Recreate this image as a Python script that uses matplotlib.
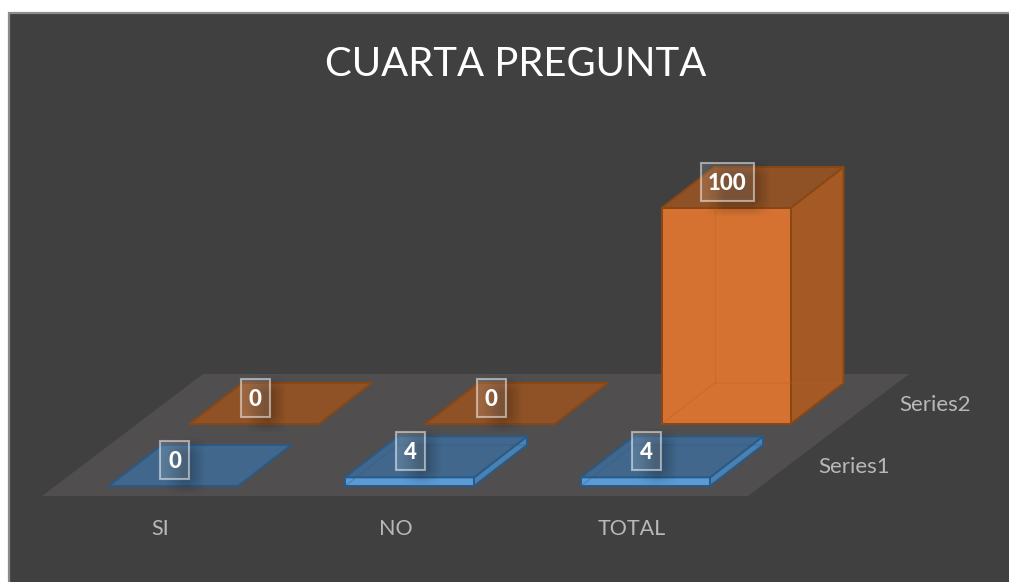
import numpy as np
import matplotlib
matplotlib.use('Agg')
import matplotlib.pyplot as plt
from matplotlib.patches import Polygon, Rectangle

plt.rcParams['font.family'] = ['Lato', 'DejaVu Sans']

TITLE = 'CUARTA PREGUNTA'
CATEGORIES = ['SI', 'NO', 'TOTAL']
SERIES_NAMES = ['Series1', 'Series2']
SERIES1 = [0, 4, 4]
SERIES2 = [0, 0, 100]

BG = '#404040'
FLOOR = '#504e4e'
TEXT = '#b8b8b8'
COLORS = {
    'Series1': {'front': '#5b9bd5', 'top': '#41688c', 'side': '#4a81b3', 'edge': '#2a5a88', 'inner': '#2a5a88'},
    'Series2': {'front': '#d57231', 'top': '#8f5226', 'side': '#a55a25', 'edge': '#8a4713', 'inner': '#b85f20'},
}

# projection, in pixels of the 1009x582 picture
ORIGIN = np.array([109.0, 486.0])   # front left of first bar, first series
CAT_STEP = np.array([236.0, 0.0])
SERIES_STEP = np.array([80.5, -62.0])
DEPTH = np.array([53.0, -41.0])
BAR_W = 129.0
Z_SCALE = 2.16


def corners(i, s, value):
    p = ORIGIN + i * CAT_STEP + s * SERIES_STEP
    w = np.array([BAR_W, 0.0])
    up = np.array([0.0, -value * Z_SCALE])
    return p, w, up


def draw_bar(ax, i, s, value, c):
    p, w, up = corners(i, s, value)
    edge = dict(ec=c['edge'], lw=1.4, joinstyle='round', zorder=4)
    if value > 0:
        ax.add_patch(Polygon([p + w, p + w + DEPTH, p + w + DEPTH + up, p + w + up],
                             fc=c['side'], **edge))
        ax.add_patch(Polygon([p, p + w, p + w + up, p + up], fc=c['front'], **edge))
        # back edges show through the translucent front
        back = p + DEPTH
        ax.plot([back[0], back[0]], [back[1], back[1] + up[1]], color=c['inner'],
                lw=0.9, alpha=0.35, zorder=4.5)
        ax.plot([p[0], back[0], back[0] + BAR_W], [p[1], back[1], back[1]],
                color=c['inner'], lw=0.9, alpha=0.35, zorder=4.5)
    ax.add_patch(Polygon([p + up, p + w + up, p + w + DEPTH + up, p + DEPTH + up],
                         fc=c['top'], **edge))


def soft_shadow(ax, x0, x1, y0, y1, blur, strength):
    xs = np.linspace(x0 - blur, x1 + blur, 80)
    ys = np.linspace(y0 - blur, y1 + blur, 60)
    ax_x = np.clip((xs - (x0 - blur)) / (2 * blur), 0, 1) * np.clip(((x1 + blur) - xs) / (2 * blur), 0, 1)
    ax_y = np.clip((ys - (y0 - blur)) / (2 * blur), 0, 1) * np.clip(((y1 + blur) - ys) / (2 * blur), 0, 1)
    alpha = np.outer(ax_y, ax_x) * strength
    rgba = np.zeros(alpha.shape + (4,))
    rgba[..., 3] = alpha
    ax.imshow(rgba, extent=(xs[0], xs[-1], ys[-1], ys[0]), aspect='auto',
              interpolation='bilinear', zorder=5)


def draw_label(ax, i, s, value):
    p, w, up = corners(i, s, value)
    cx = p[0] + 65.5
    cy = p[1] + up[1] - 26.0
    hw = 26.5 if value >= 100 else 14.5
    hh = 19.0
    soft_shadow(ax, cx - hw + 14, cx + hw + 8, cy - hh + 4, cy + hh + 8, 9, 0.27)
    ax.add_patch(Rectangle((cx - hw, cy - hh), 2 * hw, 2 * hh, fc='white', ec='none',
                           alpha=0.12, zorder=6))
    ax.add_patch(Rectangle((cx - hw, cy - hh), 2 * hw, 2 * hh, fc='none', ec='#ffffff',
                           lw=1.5, alpha=0.5, zorder=7))
    ax.text(cx, cy + 1.5, str(value), color='white', fontsize=16, fontweight=900,
            ha='center', va='center', zorder=8)


fig = plt.figure(figsize=(10.09, 5.82), dpi=100, facecolor='white')
ax = fig.add_axes([0, 0, 1, 1])
ax.set_xlim(0, 1009)
ax.set_ylim(582, 0)
ax.set_autoscale_on(False)
ax.axis('off')

ax.add_patch(Rectangle((8.5, 12.5), 1010, 600, fc=BG, ec='#8c8c8c', lw=1.6, zorder=0))

# floor
n_cat = len(CATEGORIES)
floor_front = ORIGIN + np.array([-67.0, 10.0])
floor_w = np.array([n_cat * CAT_STEP[0] - 2.0, 0.0])
floor_back = np.array([161.0, -122.0])
ax.add_patch(Polygon([floor_front, floor_front + floor_w,
                      floor_front + floor_w + floor_back, floor_front + floor_back],
                     fc=FLOOR, ec='none', zorder=1))

# back series first
for s, (name, values) in reversed(list(enumerate(zip(SERIES_NAMES, [SERIES1, SERIES2])))):
    for i, v in enumerate(values):
        draw_bar(ax, i, s, v, COLORS[name])
for s, values in enumerate([SERIES1, SERIES2]):
    for i, v in enumerate(values):
        draw_label(ax, i, s, v)

for i, cat in enumerate(CATEGORIES):
    ax.text(160 + i * CAT_STEP[0], 529, cat, color=TEXT, fontsize=15.5, ha='center', va='center')
ax.text(854, 467, SERIES_NAMES[0], color=TEXT, fontsize=16, ha='center', va='center')
ax.text(935, 405, SERIES_NAMES[1], color=TEXT, fontsize=16, ha='center', va='center')

ax.text(515.5, 64.5, TITLE, color='white', fontsize=28.8, ha='center', va='center')

fig.savefig('out.png', dpi=100, facecolor='white')
